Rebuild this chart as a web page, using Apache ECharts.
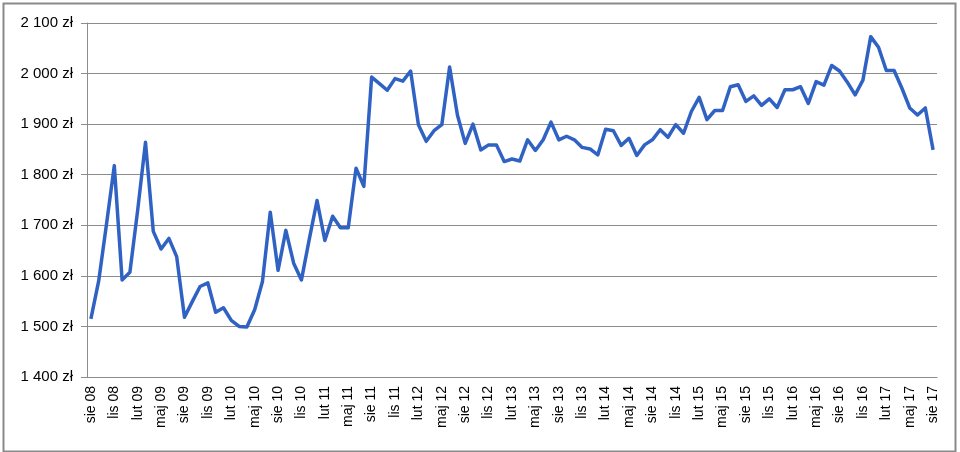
<!DOCTYPE html>
<html>
<head>
<meta charset="utf-8">
<script src="https://cdn.jsdelivr.net/npm/echarts@6/dist/echarts.min.js"></script>
<style>
  html, body { margin: 0; padding: 0; background: #fff; }
  #chart { width: 960px; height: 452px; }
</style>
</head>
<body>
<div id="chart"></div>
<script>
// monthly values, sie 08 .. sie 17
const monthNames = ["sty", "lut", "mar", "kwi", "maj", "cze", "lip", "sie", "wrz", "paź", "lis", "gru"];
const startYear = 2008;
const startMonth = 7; // sie
const prices = [
  1515, 1590, 1702, 1818, 1592, 1607, 1730, 1864, 1688, 1653, 1674, 1638,
  1518, 1549, 1579, 1586, 1528, 1537, 1512, 1500, 1499, 1533, 1589, 1726,
  1611, 1690, 1625, 1592, 1672, 1749, 1670, 1718, 1695, 1695, 1813, 1777,
  1993, 1980, 1967, 1990, 1985, 2005, 1899, 1866, 1887, 1899, 2013, 1918,
  1862, 1900, 1849, 1859, 1859, 1826, 1831, 1827, 1869, 1848, 1869, 1904,
  1869, 1876, 1869, 1854, 1851, 1839, 1890, 1887, 1858, 1872, 1838, 1859,
  1869, 1889, 1874, 1899, 1882, 1925, 1953, 1909, 1927, 1927, 1974, 1978,
  1945, 1956, 1937, 1950, 1933, 1968, 1968, 1974, 1941, 1984, 1977, 2016,
  2005, 1983, 1958, 1987, 2073, 2052, 2006, 2006, 1971, 1932, 1918, 1932,
  1849
];

const categories = prices.map((_, i) => {
  const m = (startMonth + i) % 12;
  const y = startYear + Math.floor((startMonth + i) / 12);
  return monthNames[m] + " " + String(y % 100).padStart(2, "0");
});

const formatZl = (v) =>
  String(v).replace(/\B(?=(\d{3})+(?!\d))/g, " ") + " zł";

const chart = echarts.init(document.getElementById("chart"));
const gray = "#8c8c8c";
const font = "Liberation Sans, Arial, sans-serif";

chart.setOption({
  animation: false,
  graphic: [
    {
      type: "rect",
      left: 1,
      top: 1,
      shape: { width: 952, height: 448 },
      style: { fill: "none", stroke: "#8a8a8a", lineWidth: 2 },
      silent: true,
    },
  ],
  grid: { left: 87, right: 23, top: 23, bottom: 75 },
  xAxis: {
    type: "category",
    data: categories,
    boundaryGap: true,
    axisLine: { lineStyle: { color: gray, width: 1 } },
    axisTick: { interval: 2, length: 5, lineStyle: { color: gray } },
    axisLabel: {
      interval: 2,
      rotate: 90,
      margin: 9,
      color: "#000",
      fontSize: 14,
      fontFamily: font,
    },
  },
  yAxis: {
    type: "value",
    min: 1400,
    max: 2100,
    interval: 100,
    axisLine: { show: true, lineStyle: { color: gray, width: 1 } },
    axisTick: { show: true, length: 6, lineStyle: { color: gray } },
    splitLine: { lineStyle: { color: gray, width: 1 } },
    axisLabel: {
      margin: 14,
      color: "#000",
      fontSize: 15,
      fontFamily: font,
      formatter: formatZl,
    },
  },
  series: [
    {
      type: "line",
      data: prices,
      showSymbol: false,
      lineStyle: { color: "#3062c4", width: 3.5, join: "round" },
      itemStyle: { color: "#3062c4" },
    },
  ],
});
</script>
</body>
</html>
